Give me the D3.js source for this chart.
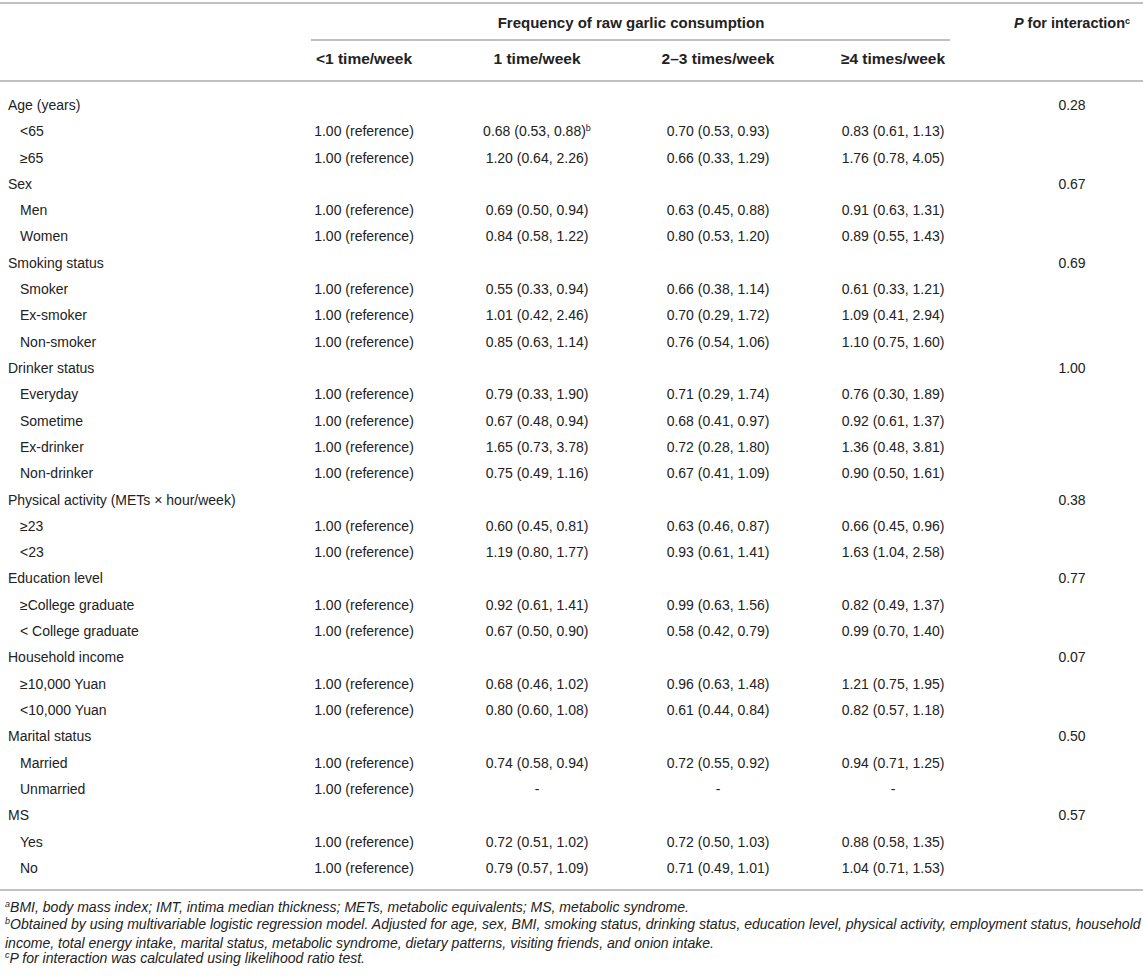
<!DOCTYPE html>
<html>
<head>
<meta charset="utf-8">
<script src="https://cdn.jsdelivr.net/npm/d3@7"></script>
<style>
  body { margin: 0; background: #fff; }
  svg { display: block; font-family: "Liberation Sans", Arial, Helvetica, sans-serif; }
</style>
</head>
<body>
<div id="chart"></div>
<script>
// Table values
const columnHeads = ["<1 time/week", "1 time/week", "2\u20133 times/week", "\u22654 times/week"];
const groupNames = ["Age (years)", "Sex", "Smoking status", "Drinker status",
	"Physical activity (METs \u00d7 hour/week)", "Education level", "Household income",
	"Marital status", "MS"];
const pInteraction = ["0.28", "0.67", "0.69", "1.00", "0.38", "0.77", "0.07", "0.50", "0.57"];
const subgroupCounts = [2, 2, 3, 4, 2, 2, 2, 2, 2];
const subgroupLabels = ["<65", "\u226565", "Men", "Women", "Smoker", "Ex-smoker", "Non-smoker",
	"Everyday", "Sometime", "Ex-drinker", "Non-drinker", "\u226523", "<23",
	"\u2265College graduate", "< College graduate", "\u226510,000 Yuan", "<10,000 Yuan",
	"Married", "Unmarried", "Yes", "No"];
// odds ratio [estimate, lower, upper] per subgroup, null where no value
const or1PerWeek = [[0.68, 0.53, 0.88], [1.20, 0.64, 2.26], [0.69, 0.50, 0.94], [0.84, 0.58, 1.22],
	[0.55, 0.33, 0.94], [1.01, 0.42, 2.46], [0.85, 0.63, 1.14], [0.79, 0.33, 1.90],
	[0.67, 0.48, 0.94], [1.65, 0.73, 3.78], [0.75, 0.49, 1.16], [0.60, 0.45, 0.81],
	[1.19, 0.80, 1.77], [0.92, 0.61, 1.41], [0.67, 0.50, 0.90], [0.68, 0.46, 1.02],
	[0.80, 0.60, 1.08], [0.74, 0.58, 0.94], null, [0.72, 0.51, 1.02], [0.79, 0.57, 1.09]];
const or2to3PerWeek = [[0.70, 0.53, 0.93], [0.66, 0.33, 1.29], [0.63, 0.45, 0.88], [0.80, 0.53, 1.20],
	[0.66, 0.38, 1.14], [0.70, 0.29, 1.72], [0.76, 0.54, 1.06], [0.71, 0.29, 1.74],
	[0.68, 0.41, 0.97], [0.72, 0.28, 1.80], [0.67, 0.41, 1.09], [0.63, 0.46, 0.87],
	[0.93, 0.61, 1.41], [0.99, 0.63, 1.56], [0.58, 0.42, 0.79], [0.96, 0.63, 1.48],
	[0.61, 0.44, 0.84], [0.72, 0.55, 0.92], null, [0.72, 0.50, 1.03], [0.71, 0.49, 1.01]];
const or4PerWeek = [[0.83, 0.61, 1.13], [1.76, 0.78, 4.05], [0.91, 0.63, 1.31], [0.89, 0.55, 1.43],
	[0.61, 0.33, 1.21], [1.09, 0.41, 2.94], [1.10, 0.75, 1.60], [0.76, 0.30, 1.89],
	[0.92, 0.61, 1.37], [1.36, 0.48, 3.81], [0.90, 0.50, 1.61], [0.66, 0.45, 0.96],
	[1.63, 1.04, 2.58], [0.82, 0.49, 1.37], [0.99, 0.70, 1.40], [1.21, 0.75, 1.95],
	[0.82, 0.57, 1.18], [0.94, 0.71, 1.25], null, [0.88, 0.58, 1.35], [1.04, 0.71, 1.53]];
const footnotes = [
	["a", "BMI, body mass index; IMT, intima median thickness; METs, metabolic equivalents; MS, metabolic syndrome."],
	["b", "Obtained by using multivariable logistic regression model. Adjusted for age, sex, BMI, smoking status, drinking status, education level, physical activity, employment status, household"],
	["", "income, total energy intake, marital status, metabolic syndrome, dietary patterns, visiting friends, and onion intake."],
	["c", "P for interaction was calculated using likelihood ratio test."]
];

const WIDTH = 1143, HEIGHT = 978;
const TEXT_COLOR = "#222";
const RULE_COLOR = "#ababab";

const fmt = d3.format(".2f");
function orText(d) {
	if (d == null) return "-";
	return fmt(d[0]) + " (" + fmt(d[1]) + ", " + fmt(d[2]) + ")";
}

// flatten groups into table rows
var rows = [];
var k = 0;
groupNames.forEach(function(g, gi) {
	rows.push({label: g, level: 0, p: pInteraction[gi]});
	for (var j = 0; j < subgroupCounts[gi]; j++, k++) {
		rows.push({label: subgroupLabels[k], level: 1,
			cells: ["1.00 (reference)", orText(or1PerWeek[k]), orText(or2to3PerWeek[k]), orText(or4PerWeek[k])],
			sup: k == 0 ? "b" : null});
	}
});

const svg = d3.select("#chart").append("svg")
	.attr("width", WIDTH)
	.attr("height", HEIGHT);

const y = d3.scaleLinear().domain([0, rows.length - 1]).range([105, 868]);
const colX = d3.scaleOrdinal().domain(d3.range(5)).range([364, 537, 718, 893, 1072]);

// rules
function rule(x1, x2, yy, w) {
	svg.append("line").attr("x1", x1).attr("x2", x2).attr("y1", yy).attr("y2", yy)
		.attr("stroke", RULE_COLOR).attr("stroke-width", w);
}
rule(0, WIDTH, 3, 1.6);
rule(311, 950, 40, 1.4);
rule(0, WIDTH, 81, 1.6);
rule(0, WIDTH, 890, 1.6);

// header
svg.append("text")
	.attr("x", 631).attr("y", 23).attr("dy", "0.35em")
	.attr("text-anchor", "middle").attr("font-size", "15px").attr("font-weight", "bold")
	.attr("fill", TEXT_COLOR)
	.text("Frequency of raw garlic consumption");

const pHead = svg.append("text")
	.attr("x", colX(4)).attr("y", 23).attr("dy", "0.35em")
	.attr("text-anchor", "middle").attr("font-size", "14.5px").attr("font-weight", "bold")
	.attr("fill", TEXT_COLOR);
pHead.append("tspan").attr("font-style", "italic").text("P");
pHead.append("tspan").text(" for interaction");
pHead.append("tspan").attr("font-size", "9px").attr("dy", "-0.5em").text("c");

svg.selectAll(".colhead").data(columnHeads).enter().append("text")
	.attr("class", "colhead")
	.attr("x", function(d, i) { return colX(i); })
	.attr("y", 59).attr("dy", "0.35em")
	.attr("text-anchor", "middle").attr("font-size", "15.5px").attr("font-weight", "bold")
	.attr("fill", TEXT_COLOR)
	.text(function(d) { return d; });

// body rows
const row = svg.selectAll(".row").data(rows).enter().append("g")
	.attr("class", "row")
	.attr("transform", function(d, i) { return "translate(0," + y(i) + ")"; });

row.append("text")
	.attr("x", function(d) { return d.level ? 20 : 8; })
	.attr("dy", "0.35em").attr("font-size", "14px").attr("fill", TEXT_COLOR)
	.text(function(d) { return d.label; });

row.filter(function(d) { return d.level == 0; }).append("text")
	.attr("x", colX(4)).attr("dy", "0.35em")
	.attr("text-anchor", "middle").attr("font-size", "14px").attr("fill", TEXT_COLOR)
	.text(function(d) { return d.p; });

row.filter(function(d) { return d.level == 1; }).each(function(d) {
	const g = d3.select(this);
	d.cells.forEach(function(c, ci) {
		const t = g.append("text")
			.attr("x", colX(ci)).attr("dy", "0.35em")
			.attr("text-anchor", "middle").attr("font-size", "14px").attr("fill", TEXT_COLOR);
		t.append("tspan").text(c);
		if (d.sup && ci == 1) {
			t.append("tspan").attr("font-size", "9px").attr("dy", "-0.6em").text(d.sup);
		}
	});
});

// footnotes
const fy = d3.scaleLinear().domain([0, footnotes.length - 1]).range([910, 961]);
const notes = svg.selectAll(".note").data(footnotes).enter().append("text")
	.attr("class", "note")
	.attr("x", 5)
	.attr("y", function(d, i) { return fy(i); })
	.attr("dy", "0.35em").attr("font-size", "12.5px").attr("font-style", "italic")
	.attr("fill", TEXT_COLOR);
notes.append("tspan").attr("font-size", "9px").attr("dy", "-0.3em").text(function(d) { return d[0]; });
notes.append("tspan").attr("dy", "0.3em").text(function(d) { return d[1]; });

// fit footnote b to the table width
const bLine = notes.filter(function(d, i) { return i == 1; }).node();
const scale = (WIDTH - 6) / bLine.getComputedTextLength();
notes.attr("font-size", (12.5 * scale) + "px");
</script>
</body>
</html>
